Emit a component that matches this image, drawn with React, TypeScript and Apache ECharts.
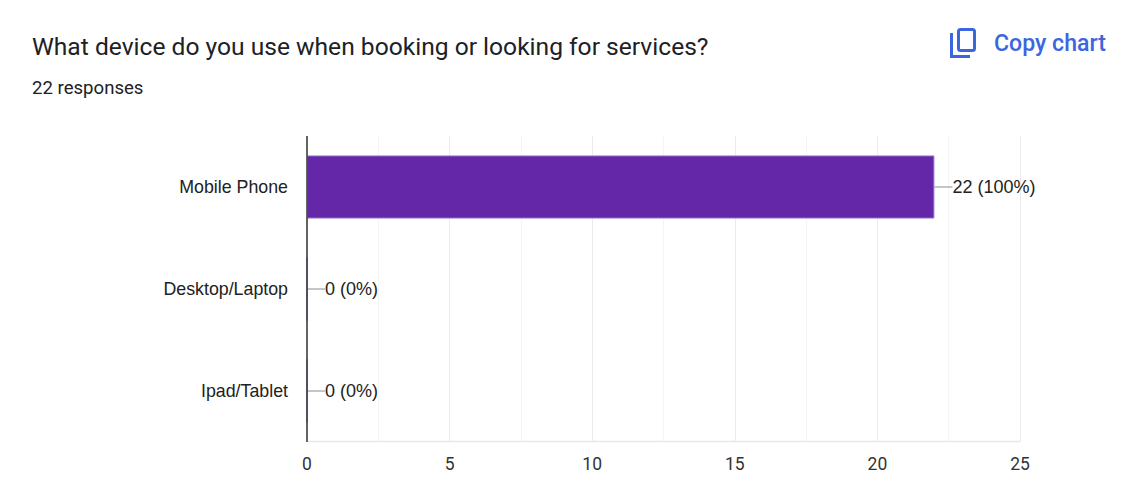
import React, { useEffect, useRef } from "react";
import * as echarts from "echarts";

const categories = ["Mobile Phone", "Desktop/Laptop", "Ipad/Tablet"];
const counts = [22, 0, 0];
const valueLabels = ["22 (100%)", "0 (0%)", "0 (0%)"];
const titleText = "What device do you use when booking or looking for services?";
const subtitleText = "22 responses";
const copyText = "Copy chart";

export default function App() {
  const ref = useRef<HTMLDivElement>(null);
  useEffect(() => {
    document.body.style.margin = "0";
    const chart = echarts.init(ref.current!, undefined, { renderer: "svg" });
    chart.setOption({
      animation: false,
      backgroundColor: "#ffffff",
      grid: { left: 307, right: 122, top: 136, bottom: 58, containLabel: false },
      xAxis: {
        type: "value",
        min: 0,
        max: 25,
        interval: 5,
        minorTick: { show: false, splitNumber: 2 },
        minorSplitLine: { show: true, lineStyle: { color: "#f5f5f5", width: 1 } },
        splitLine: { show: true, lineStyle: { color: "#ebebeb", width: 1 } },
        axisLine: { show: false },
        axisTick: { show: false },
        axisLabel: {
          color: "#333333",
          fontFamily: "Roboto",
          fontSize: 17.5,
          margin: 13,
          hideOverlap: false,
        },
      },
      yAxis: {
        type: "category",
        inverse: true,
        data: categories,
        axisLine: { show: false },
        axisTick: { show: false },
        splitLine: { show: false },
        axisLabel: {
          color: "#222222",
          fontFamily: "Liberation Sans",
          fontSize: 17.8,
          margin: 19,
        },
      },
      series: [
        {
          type: "bar",
          data: counts,
          barWidth: "62%",
          itemStyle: { color: "#6327a8", borderColor: "#a582d2", borderWidth: 1 },
          silent: true,
        },
        {
          type: "custom",
          silent: true,
          data: counts.map((v, i) => [v, i]),
          encode: { x: 0, y: 1 },
          z: 5,
          renderItem: (params: any, api: any) => {
            const p = api.coord([api.value(0), api.value(1)]);
            return {
              type: "group",
              children: [
                {
                  type: "line",
                  shape: { x1: p[0], y1: p[1], x2: p[0] + 18, y2: p[1] },
                  style: { stroke: "#8c8c8c", lineWidth: 1 },
                },
                {
                  type: "text",
                  x: p[0] + 18,
                  y: p[1],
                  style: {
                    text: valueLabels[params.dataIndex],
                    fill: "#222222",
                    font: "18px 'Liberation Sans'",
                    textAlign: "left",
                    textVerticalAlign: "middle",
                  },
                },
              ],
            };
          },
        },
      ],
      graphic: [
        {
          type: "line",
          z: 10,
          shape: { x1: 307, y1: 136, x2: 307, y2: 442 },
          style: { stroke: "#333333", lineWidth: 1.5 },
        },
        {
          type: "line",
          z: 1,
          shape: { x1: 307, y1: 441.5, x2: 1020, y2: 441.5 },
          style: { stroke: "#e8e8e8", lineWidth: 1.5 },
        },
        {
          type: "text",
          x: 32,
          y: 46,
          style: {
            text: titleText,
            fill: "#202124",
            font: "24.6px Roboto",
            textVerticalAlign: "middle",
          },
        },
        {
          type: "text",
          x: 32,
          y: 88,
          style: {
            text: subtitleText,
            fill: "#202124",
            font: "18.6px Roboto",
            textVerticalAlign: "middle",
          },
        },
        {
          type: "rect",
          shape: { x: 958.5, y: 29.5, width: 16, height: 21, r: 2 },
          style: { fill: "none", stroke: "#3b66e0", lineWidth: 3 },
        },
        {
          type: "polyline",
          shape: { points: [[951.5, 33], [951.5, 56.5], [970, 56.5]] },
          style: { fill: "none", stroke: "#3b66e0", lineWidth: 3 },
        },
        {
          type: "text",
          x: 994,
          y: 43,
          style: {
            text: copyText,
            fill: "#3b66e0",
            font: "500 23.1px Roboto",
            textVerticalAlign: "middle",
          },
        },
      ],
    });
    return () => chart.dispose();
  }, []);
  return <div ref={ref} style={{ width: 1142, height: 500 }} />;
}
